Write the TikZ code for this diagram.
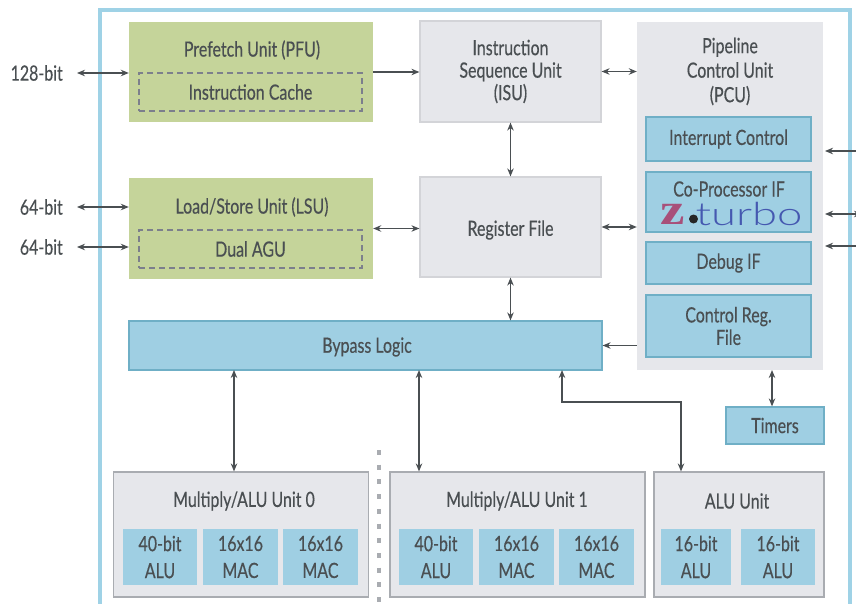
\documentclass[tikz,border=0pt]{standalone}
\usepackage{fontspec}
\setmainfont[FakeStretch=0.76,FakeBold=0.35]{Lato}
\newfontfamily\logofont[FakeStretch=1.42]{Lato Light}
\newfontfamily\logoz[FakeStretch=1.25]{Liberation Serif}
\usetikzlibrary{arrows.meta}
\definecolor{ink}{HTML}{4A4F52}
\definecolor{framec}{HTML}{9FD2E6}
\definecolor{bluec}{HTML}{9FCFE3}
\definecolor{blueb}{HTML}{6FAFC6}
\definecolor{greenc}{HTML}{C5D49A}
\definecolor{greyc}{HTML}{E6E7EB}
\definecolor{greyb}{HTML}{D3D4D8}
\definecolor{unitb}{HTML}{A9ACB1}
\definecolor{dashc}{HTML}{7C7F8C}
\definecolor{logomag}{HTML}{A8507A}
\definecolor{logoblue}{HTML}{4558B0}
\tikzset{
  txt/.style={text=ink,inner sep=0pt,align=center,font=\fontsize{21}{22.5}\selectfont},
  bluebox/.style={txt,fill=bluec,draw=blueb,line width=1.2pt},
  cellbox/.style={txt,fill=bluec,minimum height=56pt,font=\fontsize{21}{27}\selectfont},
  greenbox/.style={fill=greenc,inner sep=0pt},
  dashbox/.style={txt,draw=dashc,dashed,dash pattern=on 6pt off 4pt,line width=1.1pt,minimum width=223pt,minimum height=38pt},
  greybox/.style={txt,fill=greyc,draw=greyb,line width=1.2pt},
  unitbox/.style={fill=greyc,draw=unitb,line width=1.2pt,inner sep=0pt,minimum height=125pt},
  conn/.style={draw=ink,line width=1.7pt,>={Stealth[length=8pt,width=6.5pt]}}
}
\begin{document}
\begin{tikzpicture}[x=1pt,y=-1pt]
  \useasboundingbox (0,0) rectangle (856,604);
  \clip (0,0) rectangle (856,604);
  \draw[framec,line width=3.4pt] (100,610) -- (100,10) -- (850,10) -- (850,610);
  \draw[unitb,line width=4pt,dash pattern=on 5pt off 9.7pt] (379,450) -- (379,610);

  % fetch and load/store
  \node[greenbox,minimum width=244pt,minimum height=100pt] (pfu) at (251,72) {};
  \node[txt] (pfutitle) at (252,50) {Prefetch Unit (PFU)};
  \node[dashbox] (icache) at (250.5,92) {Instruction Cache};
  \node[greenbox,minimum width=244pt,minimum height=100pt] (lsu) at (251,228.5) {};
  \node[txt] (lsutitle) at (252,207) {Load/Store Unit (LSU)};
  \node[dashbox] (agu) at (250.5,249) {Dual AGU};

  % sequence unit and registers
  \node[greybox,minimum width=181pt,minimum height=101pt] (isu) at (510.5,71.5) {Instruction\\Sequence Unit\\(ISU)};
  \node[greybox,minimum width=181pt,minimum height=100pt] (regfile) at (510.5,227) {};
  \node[txt] (regtitle) at (510.5,230) {Register File};
  \node[bluebox,minimum width=473pt,minimum height=49pt] (bypass) at (365.5,345.5) {};
  \node[txt] (bypasstitle) at (367,347) {Bypass Logic};

  % pipeline control
  \node[fill=greyc,inner sep=0pt,minimum width=186pt,minimum height=348pt] (pcu) at (730,196) {};
  \node[txt,font=\fontsize{21}{24.5}\selectfont] (pcutitle) at (730,71.5) {Pipeline\\Control Unit\\(PCU)};
  \node[bluebox,minimum width=165pt,minimum height=44pt] (irq) at (728.5,139) {Interrupt Control};
  \node[bluebox,minimum width=165pt,minimum height=60pt] (copro) at (728.5,202) {};
  \node[txt] (coprotitle) at (729,189) {Co-Processor IF};
  \node[inner sep=0pt,text=logomag,font=\logoz\bfseries\fontsize{44}{44}\selectfont] (logoz) at (673,214) {z};
  \node[circle,fill=black!85,inner sep=0pt,minimum size=9pt] (logodot) at (693.5,219) {};
  \node[inner sep=0pt,text=logoblue,font=\logofont\fontsize{32}{32}\selectfont] (logoturbo) at (749,214) {turbo};
  \node[bluebox,minimum width=165pt,minimum height=42pt] (debug) at (728.5,263) {Debug IF};
  \node[bluebox,minimum width=165pt,minimum height=62pt] (ctrlreg) at (728.5,326) {Control Reg.\\File};
  \node[bluebox,minimum width=98pt,minimum height=37pt] (timers) at (775,425.5) {Timers};

  % execution units
  \node[unitbox,minimum width=255pt] (unit0) at (241,534.5) {};
  \node[txt] (unit0title) at (244,501) {Multiply/ALU Unit 0};
  \node[cellbox,minimum width=74pt] (alu0) at (160,557) {40-bit\\ALU};
  \node[cellbox,minimum width=75pt] (maca) at (240.5,557) {16x16\\MAC};
  \node[cellbox,minimum width=75pt] (macb) at (320.5,557) {16x16\\MAC};
  \node[unitbox,minimum width=255pt] (unit1) at (517.5,534.5) {};
  \node[txt] (unit1title) at (517,501) {Multiply/ALU Unit 1};
  \node[cellbox,minimum width=74pt] (alu1) at (436,557) {40-bit\\ALU};
  \node[cellbox,minimum width=75pt] (macc) at (516.5,557) {16x16\\MAC};
  \node[cellbox,minimum width=75pt] (macd) at (596.5,557) {16x16\\MAC};
  \node[unitbox,minimum width=170pt] (unit2) at (739,534.5) {};
  \node[txt] (unit2title) at (737,501) {ALU Unit};
  \node[cellbox,minimum width=70pt] (alu2) at (696,557) {16-bit\\ALU};
  \node[cellbox,minimum width=74pt] (alu3) at (778,557) {16-bit\\ALU};

  % outside widths
  \node[txt,anchor=east,inner xsep=14pt] (bus128) at (77,73) {128-bit};
  \node[txt,anchor=east,inner xsep=14pt] (bus64a) at (77,207) {64-bit};
  \node[txt,anchor=east,inner xsep=14pt] (bus64b) at (77,247) {64-bit};

  % free ends
  \coordinate (extirq) at (860,151);
  \coordinate (extcop) at (862,214);
  \coordinate (extdbg) at (860,246);
  \coordinate (pcuirq) at (825,151);
  \coordinate (pcucop) at (825,214);
  \coordinate (pcudbg) at (825,246);
  \coordinate (buso) at (234,370);
  \coordinate (busa) at (419,370);
  \coordinate (busb) at (562,370);
  \coordinate (bendb) at (562,402);
  \coordinate (bendc) at (681,402);
  \coordinate (tmr) at (772,370);

  \draw[conn,<->] (bus128.east) -- (pfu.west |- bus128.east);
  \draw[conn,<->] (bus64a.east) -- (lsu.west |- bus64a.east);
  \draw[conn,<->] (bus64b.east) -- (lsu.west |- bus64b.east);
  \draw[conn,->] (pfu.east) -- (isu.west |- pfu.east);
  \draw[conn,<->] (lsu.east) -- (regfile.west |- lsu.east);
  \draw[conn,<->] (isu.east) -- (isu.east -| pcu.west);
  \draw[conn,<->] (regfile.east) -- (regfile.east -| pcu.west);
  \draw[conn,<->] (isu.south) -- (regfile.north);
  \draw[conn,<->] (regfile.south) -- (regfile.south |- bypass.north);
  \draw[conn,->] (pcu.west |- bypass.east) -- (bypass.east);
  \draw[conn,<->] (tmr) -- (tmr |- timers.north);
  \draw[conn,<->] (buso) -- (buso |- unit0.north);
  \draw[conn,<->] (busa) -- (busa |- unit1.north);
  \draw[conn,<->] (busb) -- (bendb) -- (bendc) -- (bendc |- unit2.north);
  \draw[conn,->] (extirq) -- (pcuirq);
  \draw[conn,<->] (extcop) -- (pcucop);
  \draw[conn,->] (extdbg) -- (pcudbg);
\end{tikzpicture}
\end{document}
